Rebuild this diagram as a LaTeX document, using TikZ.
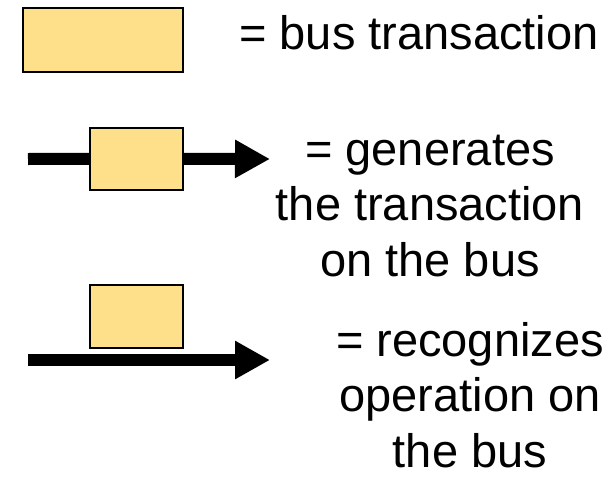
\documentclass[tikz,border=0pt]{standalone}
\usepackage{fontspec}
\setmainfont{Liberation Sans}
\usetikzlibrary{arrows.meta}
\definecolor{busfill}{RGB}{253,224,137}
\tikzset{
  txbox/.style={draw=black, fill=busfill, line width=#1, inner sep=0pt, anchor=north west},
  busarrow/.style={line width=12pt, -{Triangle[length=35pt,width=36pt]}},
  busline/.style={line width=12pt},
  label/.style={font=\fontsize{47}{55.5}\selectfont, align=center, anchor=base, inner sep=0pt}
}
\begin{document}
\begin{tikzpicture}[x=1pt,y=-1pt]
\useasboundingbox (0,0) rectangle (612,477);
% legend box
\node[txbox=2pt, minimum width=160pt, minimum height=64pt] (b1) at (22,7) {};
\node[label] (t1) at (419,49) {= bus transaction};
% generates
\coordinate (s2) at (28,159);
\coordinate (e2) at (270,159);
\node[txbox=1.5pt, minimum width=93pt, minimum height=62pt] (b2) at (89,127) {};
\draw[busline] (s2) -- (b2.west);
\draw[busarrow] (b2.east) -- (e2);
\node[label] (t2) at (430,276) {= generates\\the transaction\\on the bus};
% recognizes
\node[txbox=1.5pt, minimum width=93pt, minimum height=63pt] (b3) at (89,284) {};
\coordinate (s3) at (28,360);
\coordinate (e3) at (270,360);
\draw[busarrow] (s3) -- (e3);
\node[label] (t3) at (470,467) {= recognizes\\operation on\\the bus};
\end{tikzpicture}
\end{document}
